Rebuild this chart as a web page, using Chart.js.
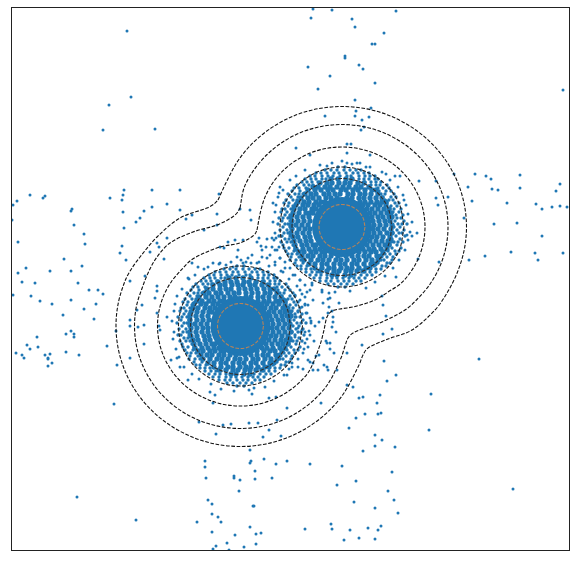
<!DOCTYPE html>
<html><head><meta charset="utf-8">
<script src="https://cdn.jsdelivr.net/npm/chart.js@4"></script>
<style>html,body{margin:0;padding:0;background:#fff}canvas{display:block}</style>
</head><body><canvas id="c" width="575" height="561"></canvas>
<script>
// sparse dots as x,y pairs
const sparseDots=[127,31,131,97,109,105,103,130,155,129,30,195,17,201,13,205,43,198,45,196,12,220,72,209,71,211,74,225,84,234,85,244,18,242,64,259,82,266,71,271,50,271,26,268,18,273,110,198,124,190,123,195,122,200,123,212,124,228,122,246,120,253,126,260,152,190,180,190,167,204,152,207,144,211,140,218,136,222,180,210,186,219,192,215,167,238,157,243,159,247,150,252,164,259,145,276,219,194,217,214,217,225,240,209,250,210,251,220,204,230,273,203,279,193,280,187,220,247,228,242,235,240,243,240,224,248,238,250,259,238,257,242,261,246,266,247,267,239,272,238,276,238,272,247,275,250,279,247,
313,9,332,10,311,18,352,19,396,11,355,27,384,33,372,44,375,44,345,56,345,58,359,65,363,69,308,67,330,76,375,83,318,89,563,90,355,100,371,108,356,111,355,116,369,117,362,120,325,116,364,127,361,130,347,144,351,144,347,153,296,148,310,155,370,155,357,163,366,167,386,174,395,176,400,176,419,181,436,181,454,174,475,174,486,176,491,179,520,175,468,187,492,189,498,190,520,188,560,184,556,191,436,198,448,197,438,205,472,201,507,203,536,204,542,209,552,207,560,206,567,207,404,200,494,224,517,223,464,218,542,236,417,233,412,236,407,235,418,259,439,262,469,260,485,256,511,252,535,253,538,260,563,253,396,277,
22,282,35,283,78,283,130,281,89,290,98,290,103,294,13,295,31,296,40,301,52,304,71,300,84,309,96,304,63,315,94,319,155,298,157,286,157,291,142,305,137,310,157,313,167,317,130,320,130,326,138,327,144,325,159,326,160,330,116,331,66,334,71,331,74,334,74,337,37,337,27,345,38,347,30,349,66,352,107,346,144,344,16,353,22,355,24,358,45,355,50,354,48,358,48,359,52,363,48,366,79,355,130,358,117,365,114,404,171,360,177,358,180,367,188,380,210,392,215,395,213,403,252,394,254,388,269,398,276,397,287,408,199,422,223,425,231,424,249,423,258,423,269,430,216,434,263,437,281,436,277,420,250,450,264,459,276,464,287,461,205,461,205,467,251,461,250,463,255,471,206,478,234,476,234,478,240,480,255,479,272,478,239,491,77,497,208,500,212,504,253,506,254,506,212,514,218,517,221,522,197,522,136,520,250,527,212,532,235,535,256,534,261,533,227,543,216,546,244,547,256,544,213,549,229,550,
382,296,383,305,386,316,392,329,383,334,362,345,347,353,384,361,479,359,396,375,387,381,353,387,347,385,363,397,359,398,380,395,377,403,431,394,321,403,381,413,378,414,365,414,356,418,349,428,429,430,375,435,382,440,375,446,395,447,363,451,310,464,342,466,392,472,356,481,337,485,388,491,513,489,394,500,354,502,375,508,398,513,331,524,332,529,305,529,350,530,368,528,381,526,378,530,359,538,344,540,375,539];
const neckDots=[339,303,329,307,323,303,328,299,332,311,328,313,323,318,319,322,311,323,315,326,333,317,333,322,332,327,336,332,326,341,314,341,327,343,330,343,330,349,334,353,319,355,316,356,313,363,310,362,308,360,303,353,308,347,305,343,310,335,305,332,302,330,298,328,295,337,324,365,327,367,328,370,337,370,318,370,313,370,303,369,298,367,292,363,287,375,289,369,306,313,310,318,308,305,305,297,307,292,322,292,329,293,330,298,313,300,302,307,298,312,295,317,
262,250,270,255,280,258,275,262,285,262,290,268,283,272,295,275,300,280,305,285,310,290,312,283,300,290,295,295,300,300,305,305,
237,257,248,258,233,267,213,263,198,267,192,263,188,278,208,267,220,263,257,263,267,258,275,265,252,255,262,257,243,263];
const outerUpperDots=[332,163,342,161,352,164,320,165,305,170,296,176,290,180,283,190,278,197,276,205,275,212,273,222,275,233,274,240,277,250,280,258,285,268,293,275,300,280,312,285,322,290,335,292,350,291,366,288,375,282,385,276,393,268,399,260,405,250,408,240,410,232,412,222,408,214,406,205,403,195,398,187,390,180,382,172,370,167,360,163,347,163,327,166];
const outerLowerDots=[231,262,241,260,251,263,219,264,204,269,195,275,189,279,182,289,177,296,175,304,174,311,172,321,174,332,173,339,176,349,179,357,184,367,192,374,199,379,211,384,221,389,234,391,249,390,265,387,274,381,284,375,292,367,298,359,304,349,307,339,309,331,311,321,307,313,305,304,302,294,297,286,289,279,281,271,269,266,259,262,246,262,226,265];
// dense areas as rows: y, then the x of each dot in that row
const massCenters=[342,227,240.5,326];
const coreUpperRows=[[179,331,338,346,352],[183,320,327,332,339,345,350,358,364],[187,313,318,325,330,337,343,349,356,361,369],[190,308,315,321,328,333,341,346,353,358,365,372,376],[194,305,311,316,324,329,335,340,348,353,360,365,371,378],[198,301,308,313,319,326,331,337,347,352,359,364,370,376,382],[202,298,304,309,316,321,325,360,365,371,377,382,386],[205,296,303,308,314,319,363,368,375,380,386],[209,294,300,305,312,316,367,372,378,384,389],[213,293,299,306,310,313,370,375,381,387,391],[217,291,297,303,309,372,378,383,389,392],[221,292,298,304,310,373,379,385,390],[225,291,296,302,308,374,380,386,392],[229,292,299,305,310,373,378,384,391],[233,291,297,303,309,374,380,387,392],[237,293,298,305,310,372,377,383,390],[241,294,300,306,311,370,376,382,388,391],[245,295,302,307,313,316,367,373,379,385,389],[249,296,303,309,315,320,363,369,374,381,387],[252,299,304,311,316,322,325,359,365,371,376,383],[256,302,308,313,320,325,331,338,346,352,358,364,369,377,381],[260,304,311,318,323,329,336,341,347,354,359,366,372,378],[264,309,315,322,327,334,340,345,352,357,364,371,375],[268,315,322,329,334,341,347,352,359,366,370],[271,320,327,334,339,346,351,357,363],[275,332,337,345,351]];
const coreLowerRows=[[278,229,236,243,251],[282,218,225,231,237,244,249,256,263],[285,213,220,225,232,238,243,250,255,262,268],[289,207,213,220,226,231,239,245,251,257,264,270,274],[293,204,209,216,221,228,234,239,246,252,258,265,270,277],[297,199,206,212,218,224,230,235,246,251,258,263,269,275,281],[301,197,202,209,214,220,224,258,264,269,276,280,285],[304,194,201,206,213,218,262,267,273,279,285],[308,193,198,205,210,215,265,271,276,283,287],[312,191,197,203,209,212,269,274,280,285,290],[316,190,196,202,208,270,276,282,287,291],[320,190,197,203,209,272,278,283,289],[324,190,195,201,207,273,279,285,290],[328,191,197,203,208,272,277,283,289],[332,190,196,202,208,273,279,285,291],[336,191,197,204,209,271,276,282,288],[340,193,198,205,210,269,275,281,286,290],[344,194,200,206,212,215,266,272,278,283,288],[348,195,202,208,214,219,262,267,273,280,285],[351,198,203,210,215,221,224,257,264,270,275,282],[355,201,207,212,219,224,230,236,245,251,257,263,268,276,280],[359,203,210,217,222,228,235,240,246,253,258,265,271,277],[363,208,214,221,226,233,239,244,251,256,263,270,274],[367,214,221,228,233,240,246,251,258,265,269],[370,219,226,233,238,245,250,256,262],[374,231,236,244,250]];
const midUpperRows=[[167,338,345],[170,325,331,337,344,350,356,361],[173,316,321,327,334,339,346,353,358,364,369],[176,310,315,322,328,333,340,347,351,359,365,370,375],[179,305,311,316,322,326,359,364,369,375,378],[182,302,307,312,318,365,371,376,381],[185,297,304,309,313,371,376,380,387],[188,294,299,306,378,383,389],[191,292,300,379,386,391],[194,288,295,299,303,381,385,394],[197,291,298,383,391,396],[200,286,293,297,385,389,393],[203,284,289,296,387,395,399],[206,288,293,391,397],[209,282,285,291,390,394,401],[212,281,287,293,393,399],[215,285,290,396,403],[218,279,283,288,392,397,401],[221,282,290,395,404],[224,278,285,288,398,402,407],[227,283,290,394,400],[230,280,287,397,404],[233,284,288,393,399,402],[236,279,282,290,396,405],[239,285,289,392,400],[242,281,287,291,394,398,403],[245,283,293,390,397],[248,284,289,295,392,401],[251,286,294,388,395,399],[254,288,292,297,385,390,396],[257,291,299,387,393],[260,290,296,301,381,384,392],[263,295,303,378,387,390],[266,297,301,307,374,382,386],[269,301,306,311,370,376,381],[272,306,312,317,322,365,370,376],[275,310,316,321,327,355,361,367,372],[278,314,320,327,332,337,343,349,354,359,365],[281,320,326,331,338,344,349,356,361],[284,328,334,341,347,353],[287,338,345]];
const midLowerRows=[[266,237,244],[269,224,230,236,243,249,255,260],[272,215,220,226,233,238,245,252,257,263,268],[275,209,214,221,227,232,239,246,250,258,264,269,274],[278,204,210,215,221,225,258,263,268,274,277],[281,201,206,211,217,264,270,275,280],[284,196,203,208,212,270,275,279,286],[287,193,198,205,277,282,288],[290,191,199,278,285,290],[293,187,194,198,202,280,284,293],[296,190,197,282,290,295],[299,185,192,196,284,288,292],[302,183,188,195,286,294,298],[305,187,192,290,296],[308,181,184,190,289,293,300],[311,180,186,192,292,298],[314,184,189,295,302],[317,178,182,187,291,296,300],[320,181,189,294,303],[323,177,184,187,297,301,306],[326,182,189,293,299],[329,179,186,296,303],[332,183,187,292,298,301],[335,178,181,189,295,304],[338,184,188,291,299],[341,180,186,190,293,297,302],[344,182,192,289,296],[347,183,188,194,291,300],[350,185,193,287,294,298],[353,187,191,196,284,289,295],[356,190,198,286,292],[359,189,195,200,280,283,291],[362,194,202,277,286,289],[365,196,200,206,273,281,285],[368,200,205,210,269,275,280],[371,205,211,216,221,264,269,275],[374,209,215,220,226,254,260,266,271],[377,213,219,226,231,236,242,248,253,258,264],[380,219,225,230,237,243,248,255,260],[383,227,233,240,246,252],[386,237,244]];
// contour lines as x,y pairs
const ringUpper23=[365,227,363.2,235.6,358.3,242.9,350.8,247.8,342,249.5,333.2,247.8,325.7,242.9,320.8,235.6,319,227,320.8,218.4,325.7,211.1,333.2,206.2,342,204.5,350.8,206.2,358.3,211.1,363.2,218.4,365,227];
const ringLower23=[263.5,326,261.7,334.6,256.8,341.9,249.3,346.8,240.5,348.5,231.7,346.8,224.2,341.9,219.3,334.6,217.5,326,219.3,317.4,224.2,310.1,231.7,305.2,240.5,303.5,249.3,305.2,256.8,310.1,261.7,317.4,263.5,326];
const ringUpper49=[392,227,388.2,245.6,377.4,261.3,361.1,271.8,342,275.5,322.9,271.8,306.6,261.3,295.8,245.6,292,227,295.8,208.4,306.6,192.7,322.9,182.2,342,178.5,361.1,182.2,377.4,192.7,388.2,208.4,392,227];
const ringLower49=[290.5,326,286.7,344.6,275.9,360.3,259.6,370.8,240.5,374.5,221.4,370.8,205.1,360.3,194.3,344.6,190.5,326,194.3,307.4,205.1,291.7,221.4,281.2,240.5,277.5,259.6,281.2,275.9,291.7,286.7,307.4,290.5,326];
const ringUpper61=[404,227,399.3,250,385.8,269.4,365.7,282.4,342,287,318.3,282.4,298.2,269.4,284.7,250,280,227,284.7,204,298.2,184.6,318.3,171.6,342,167,365.7,171.6,385.8,184.6,399.3,204,404,227];
const ringLower61=[302.5,326,297.8,349,284.3,368.4,264.2,381.4,240.5,386,216.8,381.4,196.7,368.4,183.2,349,178.5,326,183.2,303,196.7,283.6,216.8,270.6,240.5,266,264.2,270.6,284.3,283.6,297.8,303,302.5,326];
const contourInner=[257,230,260.6,211.4,265.3,196.4,273,182.5,283.3,170.4,295.9,160.5,310.2,153.1,325.8,148.5,342,147,358.2,148.5,373.8,153.1,388.1,160.5,400.7,170.4,411,182.5,418.7,196.4,423.4,211.4,425,227,423.4,242.6,418.7,257.6,411,271.5,400.7,283.6,388,292,375,300,355,306.5,340,309,332,311,327,317,324,330,320,345,309.5,370.5,299.2,382.6,286.6,392.5,272.3,399.9,256.7,404.5,240.5,406,224.3,404.5,208.7,399.9,194.4,392.5,181.8,382.6,171.5,370.5,163.8,356.6,159.1,341.6,157.5,326,159.1,310.4,163.8,295.4,171.5,281.5,181.8,269.4,190,261,200,255,220,247,240,243,250,238,255,234,257,230];
const contourMiddle=[240,208,244.1,187.7,253.9,170,267.1,154.5,283.1,141.8,301.4,132.3,321.3,126.5,342,124.5,362.7,126.5,382.6,132.3,400.9,141.8,416.9,154.5,430.1,170,439.9,187.7,446,207,448,227,446,247,439.9,266.3,430.1,284,416.9,299.5,405,310,382,322,365,328,353,333,348,338,345,346,341,358,328.6,383,315.4,398.5,299.4,411.2,281.1,420.7,261.2,426.5,240.5,428.5,219.8,426.5,199.9,420.7,181.6,411.2,165.6,398.5,152.4,383,142.6,365.3,136.5,346,134.5,326,136.5,306,142.6,286.7,149,271,157,257,170,243,193,232,217,225,231,218,237,213,240,208];
const contourOuter=[218,200,227,180.8,238.5,160,254,141.8,272.8,126.9,294.3,115.7,317.7,108.8,342,106.5,366.3,108.8,389.7,115.7,411.2,126.9,430,141.8,445.5,160,457,180.8,464.1,203.5,466.5,227,464.1,250.5,457,273.2,447,293,435,310,412,330,388,339,368,348,363,355,359,365,344,393,328.5,411.2,309.7,426.1,288.2,437.3,264.8,444.2,240.5,446.5,216.2,444.2,192.8,437.3,171.3,426.1,152.5,411.2,137,393,125.5,372.2,118.4,349.5,116,326,118.4,302.5,125.5,279.8,132,268,140,257,157,237,180,218,207,208,214,204,218,200];

const BLUE='#1f77b4';
const pairs=a=>{const o=[];for(let i=0;i<a.length;i+=2)o.push({x:a[i],y:a[i+1]});return o;};
const rows=r=>r.flatMap(([y,...xs])=>xs.map(x=>({x,y})));
const line=(d,color)=>({type:'scatter',data:pairs(d),showLine:true,tension:0.33,fill:false,pointRadius:0,borderColor:color,borderWidth:1.1,borderDash:[3.7,1.6]});
const dots=(d,r)=>({type:'scatter',data:d,pointRadius:r,pointHoverRadius:r,pointBorderWidth:0,pointBackgroundColor:BLUE,showLine:false});
const frame={id:'frame',afterDraw(c){const a=c.chartArea,g=c.ctx;g.save();g.strokeStyle='#222';g.lineWidth=1;g.strokeRect(a.left,a.top,a.width,a.height);g.restore();}};
new Chart(document.getElementById('c'),{
 type:'scatter',
 data:{datasets:[
  line(ringUpper23,'#b5835a'),line(ringLower23,'#b5835a'),
  line(ringUpper49,'#332f2d'),line(ringLower49,'#332f2d'),
  line(ringUpper61,'#222'),line(ringLower61,'#222'),
  line(contourInner,'#111'),line(contourMiddle,'#111'),line(contourOuter,'#111'),
  dots(pairs(sparseDots),1.5),dots(pairs(neckDots),1.5),
  dots(pairs(outerUpperDots),1.5),dots(pairs(outerLowerDots),1.5),
  dots(rows(midUpperRows),1.7),dots(rows(midLowerRows),1.7),
  dots(rows(coreUpperRows),2.7),dots(rows(coreLowerRows),2.7),
  dots(pairs(massCenters),30)
 ]},
 options:{responsive:false,animation:false,events:[],
  layout:{autoPadding:false,padding:{left:11.5,right:5.5,top:7.5,bottom:10.5}},
  plugins:{legend:{display:false},tooltip:{enabled:false}},
  scales:{x:{display:false,min:11.5,max:569.5},y:{display:false,reverse:true,min:7.5,max:550.5}}
 },
 plugins:[frame]
});
</script></body></html>
